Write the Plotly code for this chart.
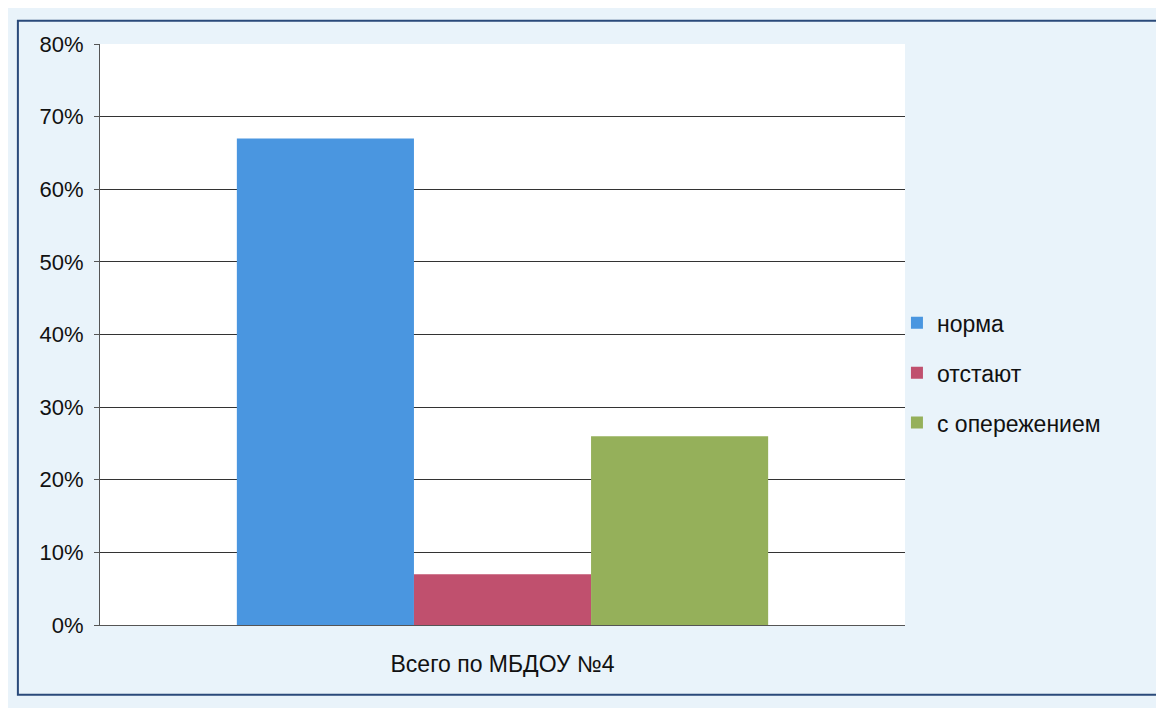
import plotly.graph_objects as go

category = ["Всего по МБДОУ №4"]
series_names = ["норма", "отстают", "с опережением"]
norma = [0.67]
otstayut = [0.07]
operezhenie = [0.26]
y_ticks = [0, 0.1, 0.2, 0.3, 0.4, 0.5, 0.6, 0.7, 0.8]
y_tick_labels = ["0%", "10%", "20%", "30%", "40%", "50%", "60%", "70%", "80%"]

colors = ["#4a96e0", "#c0506e", "#95b05a"]
values = [norma, otstayut, operezhenie]

fig = go.Figure()
for i, (name, vals, col) in enumerate(zip(series_names, values, colors)):
    fig.add_trace(go.Bar(x=category, y=vals, name=name, legendgroup=f"g{i}",
                         marker=dict(color=col, line=dict(width=0))))

# page body has an 8px margin, so the figure is 8px smaller than the window
fig.update_layout(
    width=1156, height=700,
    barmode="group", bargap=0.34, bargroupgap=0,
    paper_bgcolor="#e9f3fa", plot_bgcolor="#ffffff",
    margin=dict(l=92, r=259, t=36, b=83),
    font=dict(family="Liberation Sans, Arial, sans-serif", size=22, color="#111111"),
    legend=dict(x=0.99, y=0.434, xanchor="left", yanchor="middle",
                bgcolor="rgba(0,0,0,0)", font=dict(size=23),
                itemsizing="constant", tracegroupgap=17),
    showlegend=True,
)
fig.update_yaxes(range=[0, 0.8], tickvals=y_ticks, ticktext=y_tick_labels,
                 showgrid=True, gridcolor="#333333", gridwidth=1,
                 showline=True, linecolor="#555555", linewidth=1,
                 ticks="outside", ticklen=5, tickcolor="#555555",
                 ticklabelstandoff=6, tickfont=dict(size=22),
                 zeroline=False)
fig.update_xaxes(showline=True, linecolor="#555555", linewidth=1,
                 ticks="", tickfont=dict(size=23), ticklabelstandoff=18)
fig.add_shape(type="rect", xref="paper", yref="paper",
              x0=-0.102, x1=1.32, y0=-0.12, y1=1.04,
              line=dict(color="#2a4a7a", width=2), fillcolor="rgba(0,0,0,0)",
              layer="below")

fig.write_html("out.html")
